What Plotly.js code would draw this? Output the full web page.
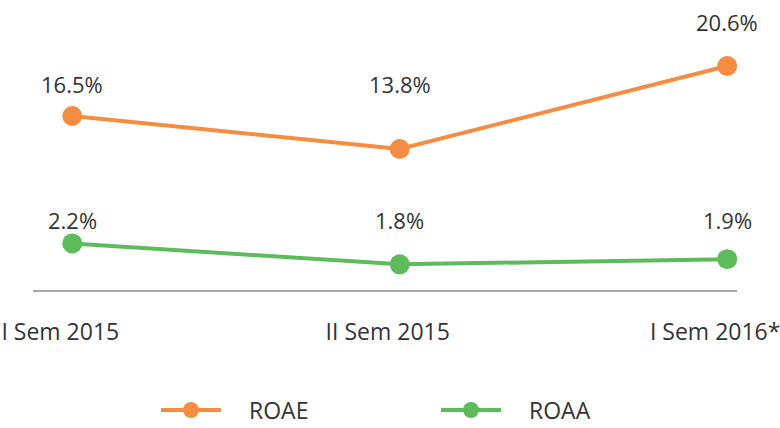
<!DOCTYPE html>
<html>
<head>
<meta charset="utf-8">
<script src="https://cdn.plot.ly/plotly-3.0.1.min.js"></script>
<style>
  html, body { margin: 0; padding: 0; background: #fff; }
  #chart { width: 780px; height: 428px; }
</style>
</head>
<body>
<div id="chart"></div>
<script>
const categories = ['I Sem 2015', 'II Sem 2015', 'I Sem 2016*'];
const roae = [16.5, 13.8, 20.6];
const roaa = [2.2, 1.8, 1.9];
const seriesNames = ['ROAE', 'ROAA'];

const ORANGE = '#F48C42';
const GREEN = '#5DBB5B';
const TEXT = '#333333';
const FONT = 'Open Sans, sans-serif';
const PAD = '\u2003';

const traces = [
  {
    x: categories, y: roae, name: PAD + seriesNames[0], type: 'scatter', mode: 'lines+markers',
    line: {color: ORANGE, width: 4}, marker: {color: ORANGE, size: 20},
    yaxis: 'y', hoverinfo: 'skip'
  },
  {
    x: categories, y: roaa, name: PAD + seriesNames[1], type: 'scatter', mode: 'lines+markers',
    line: {color: GREEN, width: 4}, marker: {color: GREEN, size: 20},
    yaxis: 'y2', hoverinfo: 'skip'
  }
];

// value labels: sit on a common row above each line, or above the point if it rises past the row
const roaeRow = 19.1;   // y-units of label row for ROAE
const roaaRow = 2.65;   // y2-units of label row for ROAA
const annotations = [];
categories.forEach((c, i) => {
  const v = roae[i];
  annotations.push({
    x: c, xref: 'x', yref: 'y', y: Math.max(v, roaeRow), yshift: v > roaeRow ? 44 : 0,
    text: v.toFixed(1) + '%', showarrow: false, yanchor: 'middle',
    font: {family: FONT, size: 22, color: TEXT}
  });
  const w = roaa[i];
  annotations.push({
    x: c, xref: 'x', yref: 'y2', y: Math.max(w, roaaRow), yshift: w > roaaRow ? 44 : 0,
    text: w.toFixed(1) + '%', showarrow: false, yanchor: 'middle',
    font: {family: FONT, size: 22, color: TEXT}
  });
});

const layout = {
  width: 780, height: 428,
  margin: {l: 33, r: 43, t: 20, b: 138},
  paper_bgcolor: '#fff', plot_bgcolor: '#fff',
  showlegend: true,
  font: {family: FONT, color: TEXT},
  xaxis: {
    type: 'category', range: [-0.12, 2.03], automargin: false,
    showline: true, linecolor: '#A9A9A9', linewidth: 2,
    showgrid: false, zeroline: false, ticks: '',
    ticklabelstandoff: 20, ticklabelshift: -12,
    tickfont: {family: FONT, size: 23, color: TEXT},
    fixedrange: true
  },
  yaxis: {range: [2.24, 24.37], visible: false, fixedrange: true},
  yaxis2: {range: [1.31, 6.47], overlaying: 'y', visible: false, fixedrange: true},
  legend: {
    orientation: 'h', xref: 'container', yref: 'container',
    x: 0.2, xanchor: 'left', y: 0.042, yanchor: 'middle',
    font: {family: FONT, size: 23, color: TEXT},
    itemwidth: 60, entrywidth: 205, entrywidthmode: 'pixels'
  },
  annotations: annotations
};

Plotly.newPlot('chart', traces, layout, {displayModeBar: false, staticPlot: true});
</script>
</body>
</html>
